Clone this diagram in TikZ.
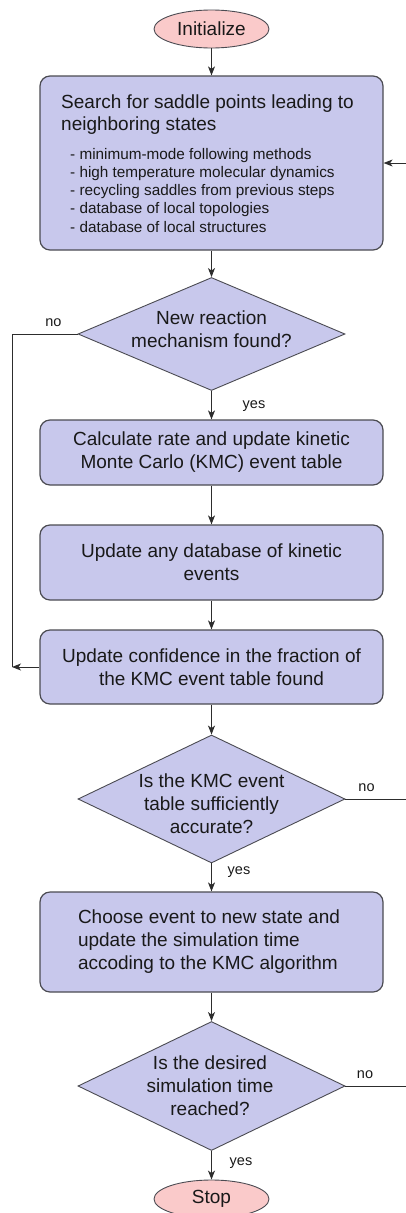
\documentclass[tikz,border=0pt]{standalone}
\usepackage{fontspec}
\setmainfont{Liberation Sans}
\usetikzlibrary{shapes.geometric,arrows.meta}
\definecolor{boxfill}{RGB}{200,200,236}
\definecolor{termfill}{RGB}{250,202,202}
\definecolor{edgegray}{RGB}{75,75,82}
\definecolor{wire}{RGB}{45,45,45}
\definecolor{ink}{RGB}{25,25,25}
\tikzset{
  mainfont/.style={font=\fontsize{19}{23}\selectfont},
  stepbox/.style={draw=edgegray, line width=1.2pt, fill=boxfill, rounded corners=10pt,
    minimum width=343pt, inner sep=0pt, text=ink, mainfont, align=center},
  decision/.style={diamond, draw=edgegray, line width=0.9pt, fill=boxfill, inner sep=0pt,
    minimum width=267pt},
  qtext/.style={text=ink, mainfont, align=center, inner sep=0pt},
  terminal/.style={ellipse, draw=edgegray, line width=0.9pt, fill=termfill,
    minimum width=115pt, minimum height=38pt, inner sep=0pt, text=ink, mainfont},
  flow/.style={draw=wire, line width=0.9pt, -{Stealth[length=9pt,width=7pt,inset=2.5pt]}},
  plainwire/.style={draw=wire, line width=0.9pt},
  tag/.style={text=ink, font=\fontsize{14.5}{17}\selectfont, inner sep=0pt, anchor=mid},
  listline/.style={text=ink, font=\fontsize{15.3}{18}\selectfont, inner sep=0pt, anchor=base west},
  headline/.style={text=ink, mainfont, inner sep=0pt, anchor=base west},
}
\begin{document}
\begin{tikzpicture}[x=1pt,y=-1pt]
\useasboundingbox (0,0) rectangle (406,1213);

% terminals
\node[terminal] (init) at (211.5,29) {Initialize};
\node[terminal] (stop) at (211.5,1199) {Stop};

% saddle search box with its heading and list of methods
\node[stepbox, minimum height=174pt] (search) at (211.5,163) {};
\node[headline] (sh1) at (61,108) {Search for saddle points leading to};
\node[headline] (sh2) at (61,130.5) {neighboring states};
\foreach \t [count=\i] in {minimum-mode following methods,
    high temperature molecular dynamics,
    recycling saddles from previous steps,
    database of local topologies,
    database of local structures}
  \node[listline] (m\i) at (70,{159+(\i-1)*18.3}) {- \t};

% decision: new mechanism
\node[decision, minimum height=113pt] (newmech) at (211.5,334) {};
\node[qtext] (newmecht) at (211.5,329) {New reaction\\mechanism found?};

% process boxes
\node[stepbox, minimum height=65pt] (rate) at (211.5,452.5)
  {Calculate rate and update kinetic\\Monte Carlo (KMC) event table};
\node[stepbox, minimum height=75pt] (dbase) at (211.5,562.5)
  {Update any database of kinetic\\events};
\node[stepbox, minimum height=74pt] (conf) at (211.5,667)
  {Update confidence in the fraction of\\the KMC event table found};

% decision: table accuracy
\node[decision, minimum height=128pt] (accur) at (211.5,799) {};
\node[qtext] (accurt) at (211.5,804) {Is the KMC event\\table sufficiently\\accurate?};

% choose event
\node[stepbox, minimum height=100pt] (choose) at (211.5,942) {};
\node[qtext, align=left] (chooset) at (209,942)
  {Choose event to new state and\\update the simulation time\\accoding to the KMC algorithm};

% decision: time reached
\node[decision, minimum height=129pt] (timeq) at (211.5,1086) {};
\node[qtext] (timeqt) at (210,1086) {Is the desired\\simulation time\\reached?};

% main flow
\draw[flow] (init) -- (search);
\draw[flow] (search) -- (newmech);
\draw[flow] (newmech) -- (rate);
\draw[flow] (rate) -- (dbase);
\draw[flow] (dbase) -- (conf);
\draw[flow] (conf) -- (accur);
\draw[flow] (accur) -- (choose);
\draw[flow] (choose) -- (timeq);
\draw[flow] (timeq) -- (stop);

% left bypass for the "no" branch
\coordinate (leftjoin) at (12,667);
\draw[plainwire] (newmech.west) -| (leftjoin);
\draw[flow] (conf.west) -- (leftjoin);

% return paths on the right
\coordinate (retin) at (406,163);
\coordinate (retacc) at (406,799);
\coordinate (rettime) at (406,1086);
\draw[flow] (retin) -- (search.east);
\draw[plainwire] (accur.east) -- (retacc);
\draw[plainwire] (timeq.east) -- (rettime);

% branch labels
\node[tag] (no1) at (53.5,324) {no};
\node[tag] (yes1) at (254,406) {yes};
\node[tag] (no2) at (366.5,789) {no};
\node[tag] (yes2) at (239,872) {yes};
\node[tag] (no3) at (365,1076) {no};
\node[tag] (yes3) at (241,1163) {yes};
\end{tikzpicture}
\end{document}
